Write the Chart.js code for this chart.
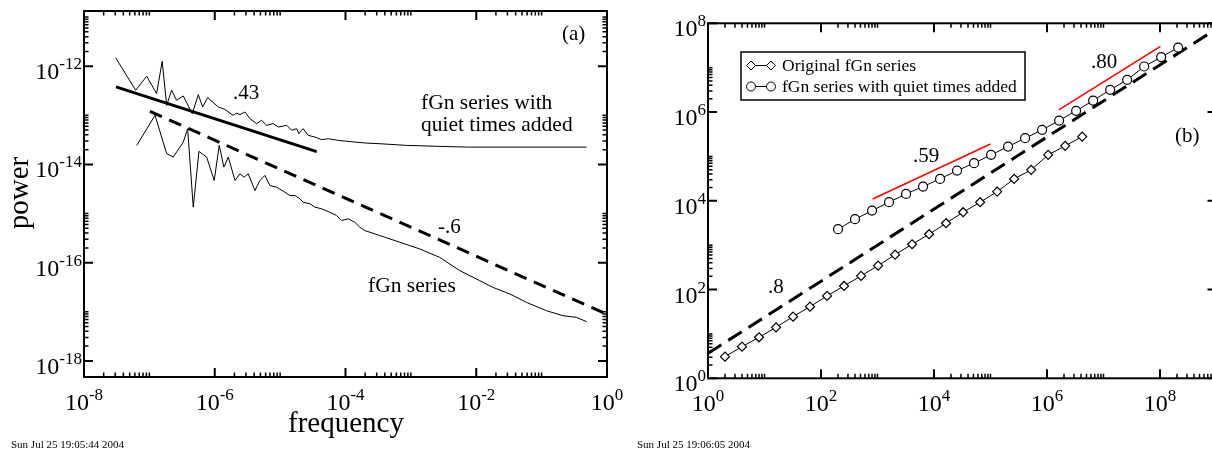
<!DOCTYPE html>
<html>
<head>
<meta charset="utf-8">
<script src="https://cdn.jsdelivr.net/npm/chart.js@4.4.1/dist/chart.umd.min.js"></script>
<style>
  body { margin: 0; width: 1212px; height: 451px; overflow: hidden; background: #fff; position: relative; }
  canvas { position: absolute; left: 0; top: 0; }
</style>
</head>
<body>
<canvas id="spectrumChart" width="1212" height="451"></canvas>
<canvas id="varianceChart" width="1240" height="451"></canvas>
<script>
// (a) power spectra
const quietFreq = [3.05e-8, 6.18e-8, 9.1e-8, 1.29e-7, 1.57e-7, 1.84e-7, 2.19e-7, 2.61e-7, 3.3e-7, 4.53e-7,
    5.6e-7, 6.53e-7, 7.79e-7, 1.13e-6, 1.43e-6, 1.9e-6, 2.16e-6, 2.43e-6, 2.9e-6, 3.45e-6,
    4.37e-6, 5.21e-6, 6.22e-6, 7.84e-6, 9.35e-6, 1.26e-5, 1.5e-5, 1.79e-5, 1.94e-5, 2.25e-5,
    2.69e-5, 3.41e-5, 4.31e-5, 5.44e-5, 7.74e-5, 9.8e-5, 1.39e-4, 2.1e-4, 3.36e-4, 8.6e-4,
    2.77e-3, 7.98e-3, 0.066, 0.486];
const quietPower = [1.48e-12, 3.24e-13, 6.25e-13, 2.77e-13, 1.26e-12, 1.6e-13, 3.24e-13, 2.02e-13, 2.48e-13, 1.08e-13,
    2.64e-13, 1.48e-13, 2.3e-13, 1.48e-13, 1.32e-13, 1.0e-13, 1.11e-13, 1.03e-13, 1.17e-13, 8.57e-14,
    6.78e-14, 7.91e-14, 6.25e-14, 6.78e-14, 5.77e-14, 6.25e-14, 4.94e-14, 5.35e-14, 4.24e-14, 5.35e-14,
    3.91e-14, 3.61e-14, 3.19e-14, 3.34e-14, 3.09e-14, 2.99e-14, 2.85e-14, 2.72e-14, 2.64e-14, 2.44e-14,
    2.33e-14, 2.25e-14, 2.25e-14, 2.25e-14];
const fgnFreq = [6.4e-8, 1.22e-7, 1.84e-7, 2.32e-7, 3.3e-7, 3.85e-7, 4.69e-7, 5.73e-7, 7.52e-7, 9.82e-7,
    1.17e-6, 1.38e-6, 1.61e-6, 2.04e-6, 2.43e-6, 2.82e-6, 3.25e-6, 4.12e-6, 4.91e-6, 5.86e-6,
    6.98e-6, 8.85e-6, 1.18e-5, 1.41e-5, 1.68e-5, 2.01e-5, 2.25e-5, 2.86e-5, 3.41e-5, 4.31e-5,
    5.77e-5, 7.31e-5, 8.71e-5, 1.1e-4, 1.39e-4, 1.66e-4, 1.98e-4, 3.36e-4, 6.79e-4, 1.37e-3,
    2.77e-3, 5.61e-3, 0.0113, 0.0181, 0.0327, 0.0588, 0.119, 0.213, 0.341, 0.486];
const fgnPower = [2.44e-14, 1.0e-13, 1.65e-14, 1.41e-14, 2.85e-14, 5.35e-14, 1.35e-15, 1.84e-14, 1.41e-14, 4.71e-15,
    2.44e-14, 8.81e-15, 1.41e-14, 4.71e-15, 6.45e-15, 5.51e-15, 6.45e-15, 2.94e-15, 4.71e-15, 5.97e-15,
    3.72e-15, 3.44e-15, 2.72e-15, 2.33e-15, 2.33e-15, 2.0e-15, 1.7e-15, 1.58e-15, 1.35e-15, 1.25e-15,
    1.06e-15, 9.1e-16, 7.2e-16, 7.8e-16, 6.64e-16, 5.25e-16, 4.5e-16, 3.56e-16, 2.6e-16, 1.9e-16,
    1.28e-16, 6.87e-17, 4.3e-17, 3.13e-17, 2.3e-17, 1.55e-17, 1.05e-17, 8.3e-18, 7.7e-18, 6.3e-18];
const fit43Freq = [3.09e-8, 3.63e-5];
const fit43Power = [3.8e-13, 1.82e-14];
const fit6Freq = [1.02e-7, 1];
const fit6Power = [1.2e-13, 8.9e-18];
const spectrumXTicks = [1e-8, 1e-6, 1e-4, 1e-2, 1];
const spectrumXLabels = ['-8', '-6', '-4', '-2', '0'];
const spectrumYTicks = [1e-18, 1e-16, 1e-14, 1e-12];
const spectrumYLabels = ['-18', '-16', '-14', '-12'];

// (b) aggregated variance
const origScale = [2, 4, 8, 16, 32, 64, 128, 256, 512, 1024, 2048, 4096, 8192, 16384, 32768,
    65536, 131072, 262144, 524288, 1048576, 2097152, 4194304];
const origVar = [3.07, 5.16, 8.4, 14.1, 24.5, 41.2, 71.8, 120.5, 203, 346, 612, 1050, 1766, 3126, 5534,
    9293, 16110, 31190, 49770, 108400, 173000, 280000];
const quietScale = [200, 400, 800, 1600, 3200, 6400, 12800, 25600, 51200, 102400, 204800, 409600,
    819200, 1638400, 3276800, 6553600, 13107200, 26214400, 52428800, 104857600, 209715200];
const quietVar = [2290, 3846, 6012, 9300, 14310, 20900, 31190, 47970, 70460, 108400, 166700, 257800,
    397000, 643000, 1064000, 1816000, 3170000, 5321000, 10620000, 17300000, 28450000];
const fit8Scale = [1, 1e9];
const fit8Var = [3.66, 7.5e7];
const red59Scale = [822, 1e5];
const red59Var = [10960, 190500];
const red80Scale = [1.62e6, 1.02e8];
const red80Var = [1.12e6, 3.02e7];
const varianceXTicks = [1, 1e2, 1e4, 1e6, 1e8];
const varianceXLabels = ['0', '2', '4', '6', '8'];
const varianceYTicks = [1, 1e2, 1e4, 1e6, 1e8];
const varianceYLabels = ['0', '2', '4', '6', '8'];

const SERIF = '"Liberation Serif", "Times New Roman", serif';
const toXY = (xs, ys) => xs.map((x, i) => ({ x: x, y: ys[i] }));

function powLabel(ctx, x, y, exp, align, rise) {
    ctx.font = '24px ' + SERIF;
    const w1 = ctx.measureText('10').width;
    ctx.font = '17px ' + SERIF;
    const w2 = ctx.measureText(exp).width;
    const left = align === 'center' ? x - (w1 + w2) / 2 : x - w1 - w2;
    ctx.textAlign = 'left';
    ctx.textBaseline = 'alphabetic';
    ctx.font = '24px ' + SERIF;
    ctx.fillText('10', left, y);
    ctx.font = '17px ' + SERIF;
    ctx.fillText(exp, left + w1, y - rise);
}

// frame, inward ticks on all four sides, 10^n labels
function axesPlugin(cfg) {
    return {
        id: 'frameAxes',
        afterDraw(chart) {
            const { ctx, chartArea: a, scales: { x, y } } = chart;
            ctx.save();
            ctx.strokeStyle = '#000';
            ctx.fillStyle = '#000';
            const minorOf = (majors, sc) => {
                const out = [];
                majors.forEach(m => {
                    for (let k = 2; k <= 10; k++) {
                        const v = m * k;
                        if (v > sc.min && v < sc.max) out.push(v);
                    }
                });
                return out;
            };
            const xMin = minorOf(cfg.xTicks, x);
            const yMin = minorOf(cfg.yTicks, y);
            const tick = (list, len, w) => {
                ctx.lineWidth = w;
                ctx.beginPath();
                list.forEach(v => {
                    if (v < x.min || v > x.max) return;
                    const px = x.getPixelForValue(v);
                    ctx.moveTo(px, a.bottom); ctx.lineTo(px, a.bottom - len);
                    ctx.moveTo(px, a.top); ctx.lineTo(px, a.top + len);
                });
                ctx.stroke();
            };
            const tickY = (list, len, w) => {
                ctx.lineWidth = w;
                ctx.beginPath();
                list.forEach(v => {
                    if (v < y.min || v > y.max) return;
                    const py = y.getPixelForValue(v);
                    ctx.moveTo(a.left, py); ctx.lineTo(a.left + len, py);
                    ctx.moveTo(a.right, py); ctx.lineTo(a.right - len, py);
                });
                ctx.stroke();
            };
            tick(cfg.xTicks, 9, 2);
            tick(xMin, 4.5, 1.5);
            tickY(cfg.yTicks, 9, 2);
            tickY(yMin, 4.5, 1.5);

            ctx.lineWidth = 2;
            ctx.strokeRect(a.left, a.top, a.right - a.left, a.bottom - a.top);

            cfg.xTicks.forEach((v, i) => {
                powLabel(ctx, x.getPixelForValue(v), a.bottom + 33, cfg.xLabels[i], 'center', 10);
            });
            cfg.yTicks.forEach((v, i) => {
                powLabel(ctx, a.left - 2, y.getPixelForValue(v) + 13, cfg.yLabels[i], 'right', 10);
            });

            ctx.textAlign = 'left';
            ctx.textBaseline = 'alphabetic';
            cfg.texts.forEach(t => {
                ctx.font = t.size + 'px ' + SERIF;
                if (t.rotate) {
                    ctx.save();
                    ctx.translate(t.x, t.y);
                    ctx.rotate(-Math.PI / 2);
                    ctx.textAlign = 'center';
                    ctx.fillText(t.text, 0, 0);
                    ctx.restore();
                } else {
                    ctx.textAlign = t.align || 'left';
                    ctx.fillText(t.text, t.x, t.y);
                }
            });
            if (cfg.legend) cfg.legend(ctx, chart);
            ctx.restore();
        }
    };
}

const baseOptions = (pad, xr, yr) => ({
    responsive: false,
    animation: false,
    events: [],
    layout: { padding: pad },
    scales: {
        x: { type: 'logarithmic', display: false, min: xr[0], max: xr[1] },
        y: { type: 'logarithmic', display: false, min: yr[0], max: yr[1] }
    },
    plugins: { legend: { display: false }, tooltip: { enabled: false } }
});

const lineSet = (label, data, extra) => Object.assign({
    label: label,
    data: data,
    showLine: true,
    borderColor: '#000',
    borderWidth: 1,
    pointRadius: 0,
    tension: 0,
    fill: false
}, extra);

new Chart(document.getElementById('spectrumChart'), {
    type: 'scatter',
    data: {
        datasets: [
            lineSet('fGn series with quiet times added', toXY(quietFreq, quietPower)),
            lineSet('fGn series', toXY(fgnFreq, fgnPower)),
            lineSet('.43', toXY(fit43Freq, fit43Power), { borderWidth: 3 }),
            lineSet('-.6', toXY(fit6Freq, fit6Power), { borderWidth: 3, borderDash: [13, 8] })
        ]
    },
    options: baseOptions({ left: 84, top: 11, right: 605, bottom: 74 }, [1e-8, 1], [4.7e-19, 1.33e-11]),
    plugins: [axesPlugin({
        xTicks: spectrumXTicks, xLabels: spectrumXLabels,
        yTicks: spectrumYTicks, yLabels: spectrumYLabels,
        texts: [
            { text: 'power', x: 28, y: 193, size: 29, rotate: true },
            { text: 'frequency', x: 346, y: 432, size: 29, align: 'center' },
            { text: '.43', x: 233, y: 99, size: 21 },
            { text: '(a)', x: 562, y: 40, size: 21 },
            { text: 'fGn series with', x: 421, y: 109, size: 21.5 },
            { text: 'quiet times added', x: 421, y: 131, size: 21.5 },
            { text: '-.6', x: 438, y: 233, size: 21 },
            { text: 'fGn series', x: 368, y: 292, size: 21.5 },
            { text: 'Sun Jul 25 19:05:44 2004', x: 11, y: 448, size: 11 }
        ]
    })]
});

function drawLegend(ctx, chart) {
    ctx.lineWidth = 1.5;
    ctx.strokeStyle = '#000';
    ctx.strokeRect(741, 52, 284, 48);
    const rows = [chart.data.datasets[0], chart.data.datasets[1]];
    const ys = [65.5, 86.5];
    rows.forEach((ds, i) => {
        const yy = ys[i];
        ctx.lineWidth = 1;
        ctx.beginPath();
        ctx.moveTo(751, yy); ctx.lineTo(771, yy);
        ctx.stroke();
        [751, 771].forEach(xx => {
            ctx.beginPath();
            if (ds.pointStyle === 'rectRot') {
                const r = ds.pointRadius;
                ctx.moveTo(xx, yy - r); ctx.lineTo(xx + r, yy); ctx.lineTo(xx, yy + r); ctx.lineTo(xx - r, yy);
                ctx.closePath();
            } else {
                ctx.arc(xx, yy, ds.pointRadius, 0, Math.PI * 2);
            }
            ctx.fillStyle = '#fff';
            ctx.fill();
            ctx.stroke();
        });
        ctx.fillStyle = '#000';
        ctx.font = '17.5px ' + SERIF;
        ctx.textAlign = 'left';
        ctx.fillText(ds.label, 782, yy + 5);
    });
}

new Chart(document.getElementById('varianceChart'), {
    type: 'scatter',
    data: {
        datasets: [
            lineSet('Original fGn series', toXY(origScale, origVar), {
                pointRadius: 4.5, pointStyle: 'rectRot', pointBackgroundColor: '#fff',
                pointBorderColor: '#000', pointBorderWidth: 1.2
            }),
            lineSet('fGn series with quiet times added', toXY(quietScale, quietVar), {
                pointRadius: 4.5, pointStyle: 'circle', pointBackgroundColor: '#fff',
                pointBorderColor: '#000', pointBorderWidth: 1.2
            }),
            lineSet('.8', toXY(fit8Scale, fit8Var), { borderWidth: 3, borderDash: [16, 8] }),
            lineSet('.59', toXY(red59Scale, red59Var), { borderColor: '#ff0000', borderWidth: 1.5 }),
            lineSet('.80', toXY(red80Scale, red80Var), { borderColor: '#ff0000', borderWidth: 1.5 })
        ]
    },
    options: baseOptions({ left: 708, top: 23.3, right: 23.5, bottom: 72.7 }, [1, 1e9], [1, 1e8]),
    plugins: [axesPlugin({
        xTicks: varianceXTicks, xLabels: varianceXLabels,
        yTicks: varianceYTicks, yLabels: varianceYLabels,
        texts: [
            { text: '.59', x: 913, y: 162, size: 21 },
            { text: '.80', x: 1091, y: 68, size: 21 },
            { text: '.8', x: 768, y: 293, size: 21 },
            { text: '(b)', x: 1175, y: 142, size: 21 },
            { text: 'Sun Jul 25 19:06:05 2004', x: 637, y: 448, size: 11 }
        ],
        legend: drawLegend
    })]
});
</script>
</body>
</html>
